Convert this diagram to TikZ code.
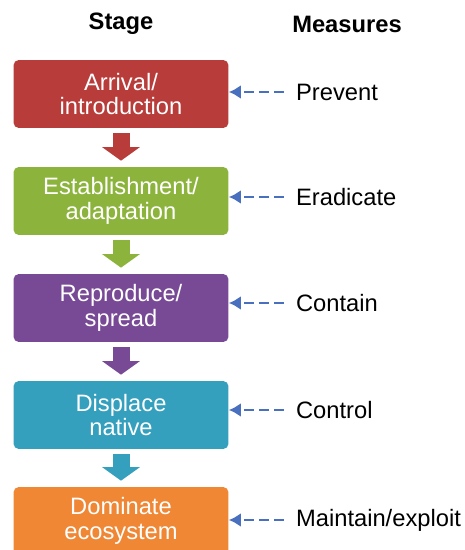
\documentclass[tikz,border=0pt]{standalone}
\usepackage{fontspec}
\setmainfont{Liberation Sans}
\usetikzlibrary{arrows.meta}
\definecolor{arrivalred}{RGB}{184,60,58}
\definecolor{estabgreen}{RGB}{140,180,60}
\definecolor{reprpurple}{RGB}{120,74,150}
\definecolor{dispteal}{RGB}{52,160,190}
\definecolor{domorange}{RGB}{240,135,52}
\definecolor{measblue}{RGB}{72,112,190}

\begin{document}
\begin{tikzpicture}[x=0.02cm,y=0.02cm,
            stage-node/.style={rectangle,rounded corners=3pt,text=white,minimum width=4.3cm,minimum height=1.36cm,align=center,font=\fontsize{13.5}{14}\selectfont},
            meas-node/.style={anchor=west,inner sep=1pt,font=\fontsize{13.5}{14}\selectfont},
            head-node/.style={font=\bfseries\fontsize{13.5}{14}\selectfont},
            step-arrow/.style={line width=0.34cm,-{Triangle[width=0.74cm,length=0.27cm]},shorten <=5pt*0.5669,shorten >=6pt*0.5669},
            meas-arrow/.style={measblue,line width=1.7pt,dash pattern=on 5.5pt off 3pt,-{Latex[length=2.4mm,width=2.8mm]},shorten <=0.2cm},
        ]
            \useasboundingbox (0,0) rectangle (465,-550);

            \node[head-node] (stage) at (121,-24) {Stage};
            \node[head-node] (measures) at (347,-24) {Measures};

            \node[stage-node,fill=arrivalred] (arrival) at (121,-94) {Arrival/\\introduction};
            \node[stage-node,fill=estabgreen] (estab) at (121,-201) {Establishment/\\adaptation};
            \node[stage-node,fill=reprpurple] (repr) at (121,-308) {Reproduce/\\spread};
            \node[stage-node,fill=dispteal] (disp) at (121,-415) {Displace\\native};
            \node[stage-node,fill=domorange] (dom) at (121,-521) {Dominate\\ecosystem};

            \node[meas-node] (prevent) at (294,-92) {Prevent};
            \node[meas-node] (eradicate) at (294,-197) {Eradicate};
            \node[meas-node] (contain) at (294,-303) {Contain};
            \node[meas-node] (control) at (294,-410) {Control};
            \node[meas-node] (maintain) at (294,-520) {Maintain/exploit};

            \draw[step-arrow,arrivalred] (arrival) -- (estab);
            \draw[step-arrow,estabgreen] (estab) -- (repr);
            \draw[step-arrow,reprpurple] (repr) -- (disp);
            \draw[step-arrow,dispteal] (disp) -- (dom);

            \draw[meas-arrow] (prevent.west) -- (arrival.east |- prevent.west);
            \draw[meas-arrow] (eradicate.west) -- (estab.east |- eradicate.west);
            \draw[meas-arrow] (contain.west) -- (repr.east |- contain.west);
            \draw[meas-arrow] (control.west) -- (disp.east |- control.west);
            \draw[meas-arrow] (maintain.west) -- (dom.east |- maintain.west);
        \end{tikzpicture}
\end{document}
